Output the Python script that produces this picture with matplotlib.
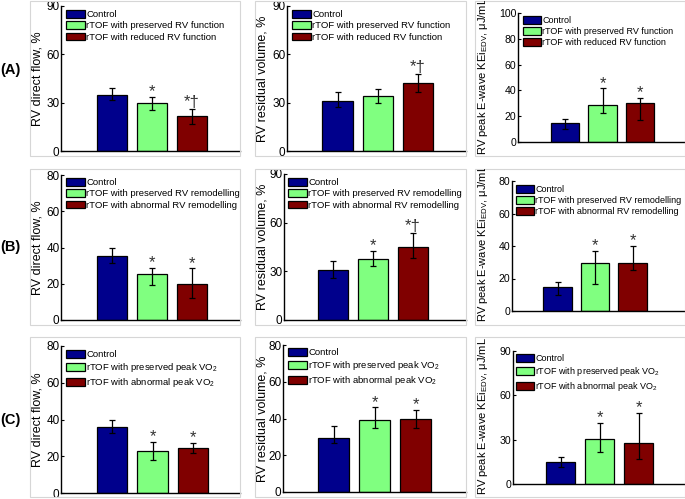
#!/usr/bin/env python3
"""Flow components and KEi by rTOF subgroup (3x3 bar panels)."""

import matplotlib
matplotlib.use('Agg')
import matplotlib.pyplot as plt
from matplotlib.patches import Rectangle
from matplotlib.transforms import Bbox, TransformedBbox

plt.rcParams['font.family'] = ['Liberation Sans', 'DejaVu Sans']
plt.rcParams['mathtext.fontset'] = 'custom'
plt.rcParams['mathtext.rm'] = 'Liberation Sans'
plt.rcParams['mathtext.it'] = 'Liberation Sans:italic'

# ---- data ----
row_tags = ['(A)', '(B)', '(C)']
groups_A = ['Control', 'rTOF with preserved RV function', 'rTOF with reduced RV function']
groups_B = ['Control', 'rTOF with preserved RV remodelling', 'rTOF with abnormal RV remodelling']
groups_C = ['Control', 'rTOF with preserved peak VO$_2$', 'rTOF with abnormal peak VO$_2$']

ylabels = ['RV direct flow, %', 'RV residual volume, %',
           'RV peak E-wave KEi$_{\\mathregular{EDV}}$, \u03bcJ/mL']

# means, lower / upper error lengths, significance marks
flow_A = [35.0, 30.0, 22.0]
flow_A_lo = [3.3, 4.6, 5.2]
flow_A_hi = [4.3, 3.7, 4.3]
flow_A_sig = ['', '*', '*\u2020']

resid_A = [31.0, 34.0, 42.0]
resid_A_lo = [3.9, 4.0, 5.2]
resid_A_hi = [5.8, 4.3, 5.8]
resid_A_sig = ['', '', '*\u2020']

kei_A = [15.0, 29.0, 30.0]
kei_A_lo = [5.1, 6.4, 12.6]
kei_A_hi = [3.2, 12.6, 4.3]
kei_A_sig = ['', '*', '*']

flow_B = [35.5, 25.6, 19.7]
flow_B_lo = [4.2, 6.3, 7.4]
flow_B_hi = [4.0, 3.3, 8.8]
flow_B_sig = ['', '*', '*']

resid_B = [30.9, 37.7, 44.9]
resid_B_lo = [5.2, 4.3, 6.4]
resid_B_hi = [5.6, 4.9, 8.6]
resid_B_sig = ['', '*', '*\u2020']

kei_B = [14.8, 29.8, 29.8]
kei_B_lo = [4.7, 12.9, 4.3]
kei_B_hi = [3.1, 7.0, 10.1]
kei_B_sig = ['', '*', '*']

flow_C = [36.0, 22.9, 24.7]
flow_C_lo = [3.3, 4.7, 2.9]
flow_C_hi = [3.6, 4.9, 2.6]
flow_C_sig = ['', '*', '*']

resid_C = [29.6, 39.1, 40.0]
resid_C_lo = [3.2, 4.2, 4.9]
resid_C_hi = [6.2, 6.9, 4.5]
resid_C_sig = ['', '*', '*']

kei_C = [15.1, 30.2, 27.9]
kei_C_lo = [3.4, 8.4, 11.2]
kei_C_hi = [2.9, 11.2, 20.3]
kei_C_sig = ['', '*', '*']

# y-axis: (max, step)
yaxis_A = [(90, 30), (90, 30), (100, 20)]
yaxis_B = [(80, 20), (90, 30), (80, 20)]
yaxis_C = [(80, 20), (80, 20), (90, 30)]

colors = ['#00008c', '#80ff80', '#800000']

panels = [
    [(flow_A, flow_A_lo, flow_A_hi, flow_A_sig), (resid_A, resid_A_lo, resid_A_hi, resid_A_sig),
     (kei_A, kei_A_lo, kei_A_hi, kei_A_sig)],
    [(flow_B, flow_B_lo, flow_B_hi, flow_B_sig), (resid_B, resid_B_lo, resid_B_hi, resid_B_sig),
     (kei_B, kei_B_lo, kei_B_hi, kei_B_sig)],
    [(flow_C, flow_C_lo, flow_C_hi, flow_C_sig), (resid_C, resid_C_lo, resid_C_hi, resid_C_sig),
     (kei_C, kei_C_lo, kei_C_hi, kei_C_sig)],
]
groups = [groups_A, groups_B, groups_C]
yaxes = [yaxis_A, yaxis_B, yaxis_C]

# ---- layout in pixels ----
W, H = 685, 499
fig = plt.figure(figsize=(W / 100, H / 100), dpi=100)


def fx(p):
    return p / W


def fy(p):
    return 1 - p / H


box_cols = [(30, 240), (255, 466), (475, 684.5)]
box_rows = [(0.5, 156), (169, 325), (337, 497)]
# axes: left, right, top, bottom, control-bar centre, bar spacing
ax_px = [
    [(61, 240, 6, 151, 112, 40), (287, 466, 6, 151, 337.5, 40.2), (518, 685, 13, 142, 565, 37.5)],
    [(61, 240, 175, 320, 111.5, 40), (284, 466, 174, 320, 333, 40), (512, 685, 181, 311, 557.5, 37.5)],
    [(61, 240, 346, 493, 112, 40.5), (283, 466, 345, 492, 333.5, 41), (513, 685, 351, 484, 560.5, 39)],
]
leg_px = [
    [(66, 10), (292, 10), (523, 16)],
    [(66, 178), (288, 178), (516, 185)],
    [(66, 350), (288, 348), (516, 354)],
]
leg_fs = [6.8, 6.8, 6.5]
label_x = [37.5, 262.5, 483]
kei_label_bottom = [155, 322, 495]
tag_y = [70, 247, 420]
tick_fs = [8.5, 8.5, 7.6]
label_fs = [9.0, 9.0, 8.0]

for r in range(3):
    fig.text(fx(10), fy(tag_y[r]), row_tags[r], fontsize=10.5, fontweight='bold',
             ha='center', va='center')
    for c in range(3):
        bx0, bx1 = box_cols[c]
        by0, by1 = box_rows[r]
        fig.patches.append(Rectangle((fx(bx0), fy(by1)), (bx1 - bx0) / W, (by1 - by0) / H,
                                     transform=fig.transFigure, fill=False,
                                     edgecolor='#d6d6d6', linewidth=0.8))

        L, R, T, B, cx, sp = ax_px[r][c]
        ax = fig.add_axes([fx(L), fy(B), (R - L) / W, (B - T) / H])
        means, lo, hi, sig = panels[r][c]
        ymax, ystep = yaxes[r][c]
        x = [1, 2, 3]
        bars = ax.bar(x, means, width=0.75, color=colors, edgecolor='black', linewidth=0.9,
                      yerr=[lo, hi], capsize=2.4,
                      error_kw=dict(elinewidth=0.9, capthick=0.9, ecolor='black'))
        ax.set_xlim(1 - (cx - L) / sp, 1 + (R - cx) / sp)
        ax.set_ylim(0, ymax)
        ax.set_yticks(range(0, ymax + 1, ystep))
        ax.set_xticks([])
        ax.tick_params(axis='y', direction='in', length=2, width=0.8, labelsize=tick_fs[c], pad=1)
        for s in ['top', 'right']:
            ax.spines[s].set_visible(False)
        for s in ['left', 'bottom']:
            ax.spines[s].set_linewidth(1.0)
        ax.patch.set_alpha(0)

        for i, m in enumerate(sig):
            if m:
                ax.annotate(m, (x[i], means[i] + hi[i]), xytext=(0, 1.5 if len(m) > 1 else 0.5),
                            textcoords='offset points', ha='center', va='baseline',
                            fontsize=12, color='#333333')

        lx, ly = leg_px[r][c]
        ax.legend(list(bars), groups[r], loc='upper left',
                  bbox_to_anchor=(fx(lx), fy(ly)), bbox_transform=fig.transFigure,
                  frameon=False, fontsize=leg_fs[c], borderpad=0, borderaxespad=0,
                  handlelength=2.0, handleheight=0.9, handletextpad=0.15,
                  labelspacing=0.22)

        clip = TransformedBbox(Bbox.from_extents(fx(bx0), fy(by1), fx(bx1), fy(by0)),
                               fig.transFigure)
        if c < 2:
            fig.text(fx(label_x[c]), fy((T + B) / 2), ylabels[c], rotation=90,
                     ha='center', va='center', fontsize=label_fs[c],
                     clip_box=clip, clip_on=True)
        else:
            fig.text(fx(label_x[c]), fy(kei_label_bottom[r]), ylabels[c], rotation=90,
                     ha='center', va='bottom', fontsize=label_fs[c],
                     clip_box=clip, clip_on=True)

fig.savefig('out.png', dpi=100)
